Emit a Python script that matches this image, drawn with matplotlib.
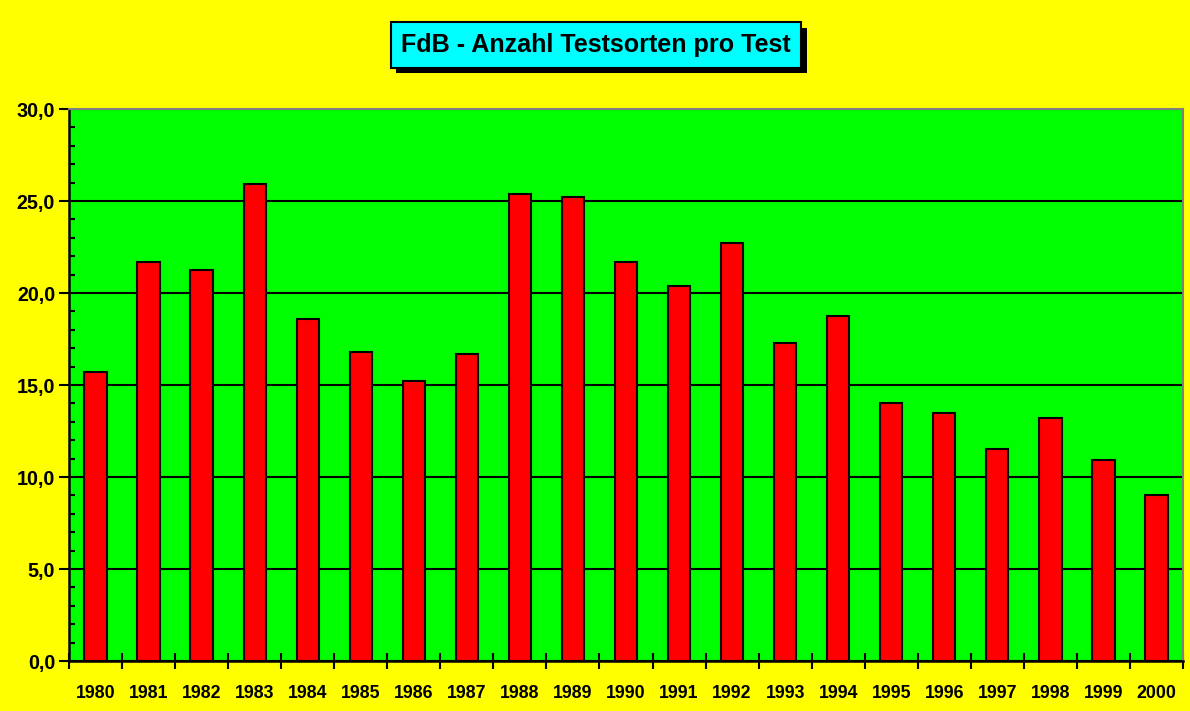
import matplotlib
matplotlib.use("Agg")
import matplotlib.pyplot as plt
import matplotlib.patheffects as pe
from matplotlib.ticker import MultipleLocator, FuncFormatter
import numpy as np

years = ["1980", "1981", "1982", "1983", "1984", "1985", "1986", "1987", "1988", "1989",
         "1990", "1991", "1992", "1993", "1994", "1995", "1996", "1997", "1998", "1999", "2000"]
values = [15.7, 21.7, 21.25, 25.9, 18.6, 16.8, 15.2, 16.7, 25.4, 25.2,
          21.7, 20.4, 22.7, 17.3, 18.75, 14.0, 13.5, 11.5, 13.2, 10.9, 9.0]
title = "FdB - Anzahl Testsorten pro Test"

plt.rcParams['font.family'] = ['Liberation Sans', 'DejaVu Sans']

fig = plt.figure(figsize=(11.9, 7.11), dpi=100, facecolor='#FFFF00')
ax = fig.add_axes([69/1190, 1-661/711, (1183-69)/1190, (661-109)/711])
ax.set_facecolor('#00FF00')

x = np.arange(len(years))
ax.bar(x, values, width=0.42, color='#FF0000', edgecolor='black', linewidth=1.5, zorder=3)

ax.set_xlim(-0.5, len(years) - 0.5)
ax.set_ylim(0, 30)
ax.yaxis.set_major_locator(MultipleLocator(5))
ax.yaxis.set_minor_locator(MultipleLocator(1))
ax.yaxis.set_major_formatter(FuncFormatter(lambda v, p: f"{v:.1f}".replace('.', ',')))
ax.grid(axis='y', which='major', color='black', linewidth=1.5, zorder=1)

ax.set_xticks(x)
ax.set_xticklabels(years, fontsize=12.8, fontweight='bold')
ax.set_xticks(np.arange(-0.5, len(years), 1.0), minor=True)
ax.tick_params(axis='x', which='major', length=0, pad=17)
ax.tick_params(axis='x', which='minor', length=12, width=1.5, direction='inout')
ax.tick_params(axis='y', which='major', length=7, width=1.5, direction='out', labelsize=14.2, pad=3)
ax.tick_params(axis='y', which='minor', length=4, width=1.5, direction='in')
for lab in ax.get_yticklabels():
    lab.set_fontweight('bold')

ax.spines['left'].set_linewidth(1.8)
ax.spines['bottom'].set_linewidth(1.8)
ax.spines['top'].set_color('#808080')
ax.spines['right'].set_color('#808080')
ax.spines['top'].set_linewidth(1.5)
ax.spines['right'].set_linewidth(1.5)

t = fig.text(596/1190, 1-45/711, title, ha='center', va='center', fontsize=18.1,
             fontweight='bold', color='black',
             bbox=dict(boxstyle='square,pad=0.42', facecolor='#00FFFF', edgecolor='black', linewidth=1.5))
t.get_bbox_patch().set_path_effects([pe.SimplePatchShadow(offset=(4, -4), shadow_rgbFace='black', alpha=1.0), pe.Normal()])

fig.savefig("out.png", dpi=100, facecolor=fig.get_facecolor())
